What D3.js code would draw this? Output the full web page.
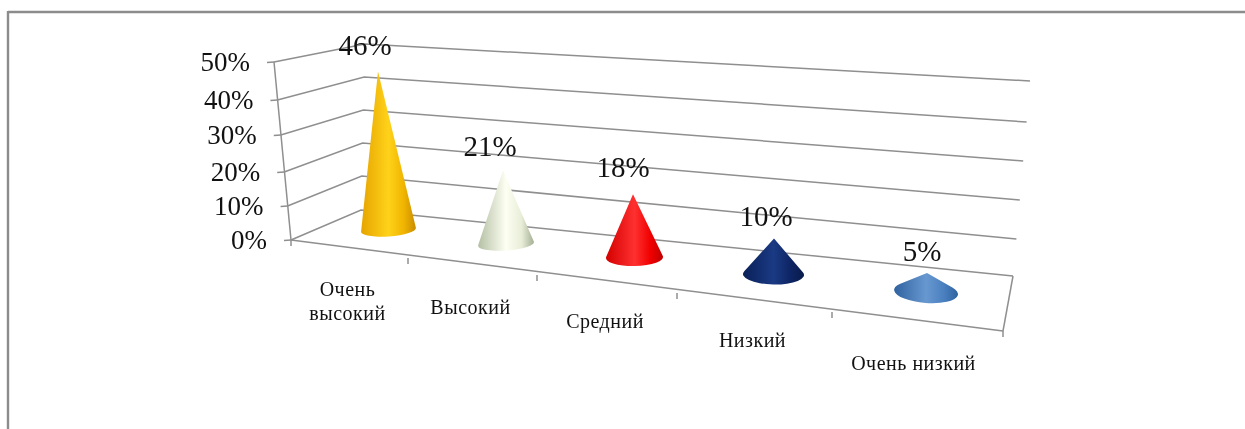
<!DOCTYPE html>
<html><head><meta charset="utf-8">
<script src="https://cdn.jsdelivr.net/npm/d3@7/dist/d3.min.js"></script>
<style>html,body{margin:0;padding:0;background:#fff;overflow:hidden}svg{display:block;filter:blur(.45px)}text{font-family:"Liberation Serif","Times New Roman",serif;fill:#111}</style>
</head><body><script>
const categories = [["Очень","высокий"],["Высокий"],["Средний"],["Низкий"],["Очень низкий"]];
const values = [46,21,18,10,5];
const valueLabels = ["46%","21%","18%","10%","5%"];
const tickValues = [0,10,20,30,40,50];
const coneColors = [
 ["#e6a400","#ffd21a","#f0b400","#c98c00"],
 ["#b4bfa4","#fdfff2","#e8edd8","#a4af94"],
 ["#d40000","#ff3030","#f00000","#c00000"],
 ["#0a2058","#1a3a84","#0e2564","#081b4a"],
 ["#2f629f","#6898d0","#4a80c0","#2f639f"]
];

const W=1245,H=429;
const svg=d3.select("body").append("svg").attr("width",W).attr("height",H);
const defs=svg.append("defs");

// projected chart frame: value -> position on the three wall edges
const leftX=d3.scaleLinear().domain([0,50]).range([291,274]);
const leftY=d3.scaleLinear().domain(tickValues).range([240,206,172,135,100,62]);
const cornerX=d3.scaleLinear().domain([0,50]).range([361,365]);
const cornerY=d3.scaleLinear().domain(tickValues).range([210,176,143,110,77,44]);
const rightX=d3.scaleLinear().domain([0,50]).range([1013,1030]);
const rightY=d3.scaleLinear().domain(tickValues).range([276,239,200,161,122,81]);
// floor front edge, category boundary index -> position (perspective spacing)
const idx=[0,1,2,3,4,5];
const frontX=d3.scaleLinear().domain(idx).range([291,408,537,677,832,1003]);
const frontY=d3.scaleLinear().domain(idx).range([240,258,275,293,312,331]);
// cone placement, category index -> base centre and shape
const ci=[0,1,2,3,4];
const baseX=d3.scaleLinear().domain(ci).range([388.5,506,634.5,773.5,926]);
const baseY=d3.scaleLinear().domain(ci).range([230,244,257.5,274.5,292]);
const baseRx=d3.scaleLinear().domain(ci).range([27.5,28,28.5,30.5,32]);
const baseRy=d3.scaleLinear().domain(ci).range([6.5,6.5,8.5,10,11]);
const baseTilt=d3.scaleLinear().domain(ci).range([-4,-4,-1,1,4.5]);
const tipShift=d3.scaleLinear().domain(ci).range([-10.5,-3,-1.5,.5,1]);
const height=d3.scaleLinear().domain([0,50]).range([2,172]);
const labelDx=d3.scaleLinear().domain(ci).range([-13,-13,-10,-8,-5]);
const labelDy=d3.scaleLinear().domain(ci).range([-26,-24,-26,-22,-21]);
const catDy=d3.scaleLinear().domain(ci).range([47,47,44,44,48]);
const catDx=d3.scaleLinear().domain(ci).range([-2,-2,-2,-2,-4]);

// outer frame
const frame=svg.append("g").attr("stroke","#8c8c8c").attr("stroke-width",2.4).attr("fill","none");
frame.append("line").attr("x1",8).attr("y1",12).attr("x2",W).attr("y2",12);
frame.append("line").attr("x1",8).attr("y1",11).attr("x2",8).attr("y2",H);

// gridlines
const axisColor="#8f8f8f";
const grid=svg.append("g").attr("fill","none").attr("stroke",axisColor).attr("stroke-width",1.5);
grid.selectAll("polyline").data(tickValues).join("polyline")
 .attr("points",v=>[[leftX(v),leftY(v)],[cornerX(v),cornerY(v)],[rightX(v),rightY(v)]].join(" "));
grid.append("line").attr("x1",leftX(0)).attr("y1",leftY(0)).attr("x2",leftX(50)).attr("y2",leftY(50));
grid.selectAll("line.t").data(tickValues).join("line").attr("class","t")
 .attr("x1",v=>leftX(v)-7).attr("y1",v=>leftY(v)+.6).attr("x2",v=>leftX(v)).attr("y2",v=>leftY(v));
// floor
grid.append("line").attr("x1",frontX(0)).attr("y1",frontY(0)).attr("x2",frontX(5)).attr("y2",frontY(5));
grid.append("line").attr("x1",frontX(5)).attr("y1",frontY(5)).attr("x2",rightX(0)).attr("y2",rightY(0));
grid.selectAll("line.c").data(idx).join("line").attr("class","c")
 .attr("x1",i=>frontX(i)).attr("y1",i=>frontY(i)).attr("x2",i=>frontX(i)).attr("y2",i=>frontY(i)+6);

// y labels
svg.append("g").attr("text-anchor","end").attr("font-size",27).selectAll("text").data(tickValues).join("text")
 .attr("x",v=>leftX(v)-24).attr("y",v=>leftY(v)+8.5).text(v=>v+"%");

// cones
values.forEach((v,i)=>{
 const g=defs.append("linearGradient").attr("id","cone"+i).attr("x1",0).attr("x2",1).attr("y1",0).attr("y2",0);
 [[0,0],[.5,1],[.78,2],[1,3]].forEach(([o,c])=>g.append("stop").attr("offset",o).attr("stop-color",coneColors[i][c]));
});
// silhouette: tip, then the two tangent points on the tilted base ellipse
const cone=(v,i)=>{
 const cx=baseX(i),cy=baseY(i),rx=baseRx(i),ry=baseRy(i),a=baseTilt(i)*Math.PI/180;
 const tx=cx+tipShift(i),ty=cy-height(v);
 const dx=tx-cx,dy=ty-cy;
 const px=dx*Math.cos(a)+dy*Math.sin(a),py=-dx*Math.sin(a)+dy*Math.cos(a);
 const u=px/rx,w=py/ry,base=Math.atan2(w,u),off=Math.acos(1/Math.hypot(u,w));
 const at=t=>{const x=rx*Math.cos(t),y=ry*Math.sin(t);
  return [cx+x*Math.cos(a)-y*Math.sin(a),cy+x*Math.sin(a)+y*Math.cos(a)];};
 const R=at(base+off),L=at(base-off);
 return `M${tx},${ty}L${R[0]},${R[1]}A${rx},${ry},${baseTilt(i)},1,1,${L[0]},${L[1]}Z`;
};
svg.append("g").selectAll("path").data(values).join("path")
 .attr("d",(v,i)=>cone(v,i)).attr("fill",(v,i)=>`url(#cone${i})`);

// value labels
svg.append("g").attr("text-anchor","middle").attr("font-size",29).selectAll("text").data(valueLabels).join("text")
 .attr("x",(d,i)=>baseX(i)+tipShift(i)+labelDx(i))
 .attr("y",(d,i)=>baseY(i)-height(values[i])+labelDy(i)+9).text(d=>d);

// category labels
const cat=svg.append("g").attr("text-anchor","middle").attr("font-size",20).attr("letter-spacing",.5);
categories.forEach((lines,i)=>{
 const x=(frontX(i)+frontX(i+1))/2+catDx(i), y=(frontY(i)+frontY(i+1))/2+catDy(i);
 const t=cat.append("text").attr("x",x).attr("y",y);
 lines.forEach((l,j)=>t.append("tspan").attr("x",x).attr("dy",j?24:0).text(l));
});
</script></body></html>
